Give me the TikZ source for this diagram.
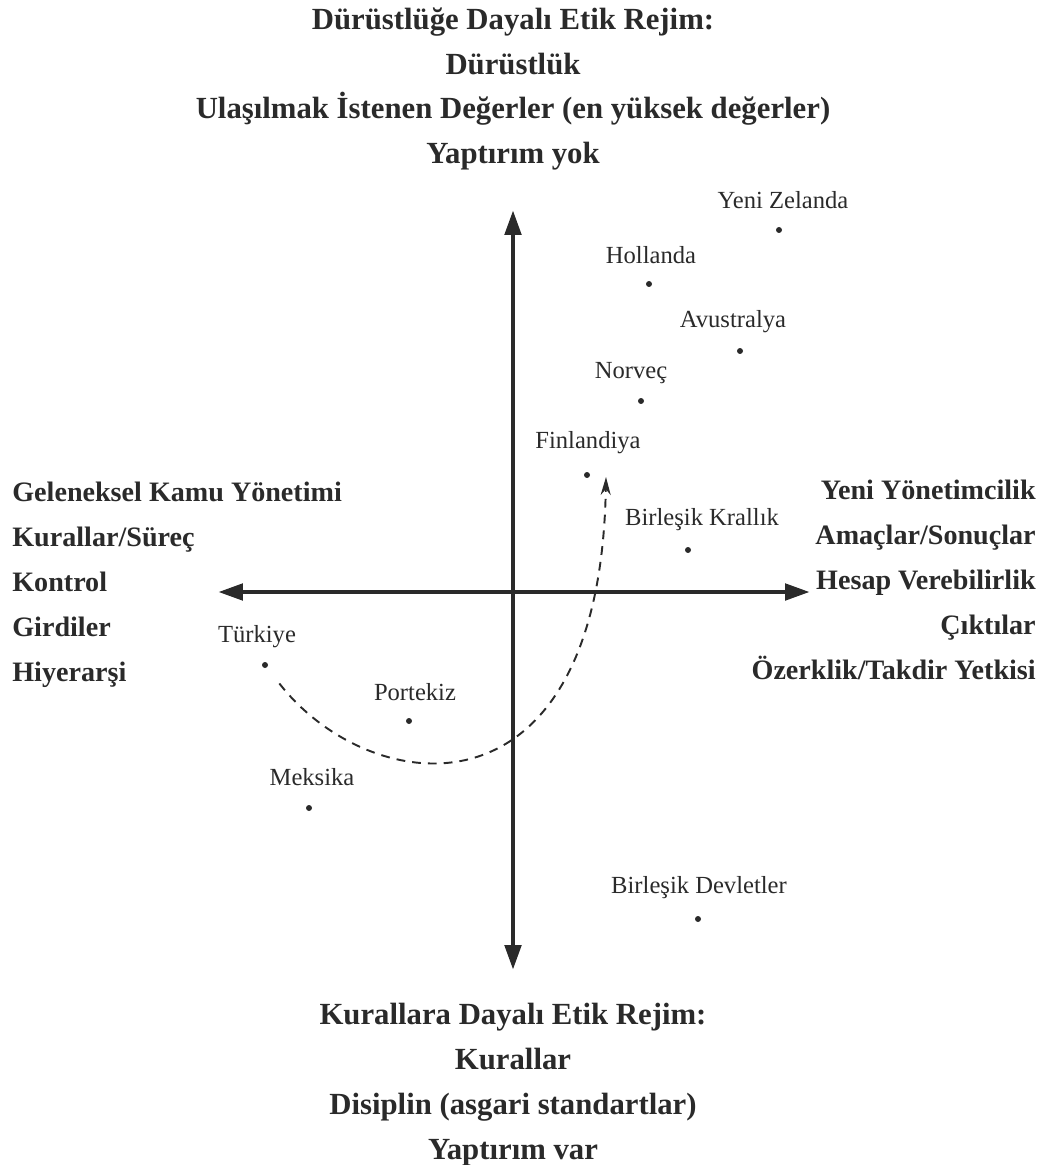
\documentclass[tikz,border=0pt]{standalone}
\usepackage{fontspec}
\setmainfont{Liberation Serif}
\usepackage{xcolor}
\usepackage{tikz}
\usetikzlibrary{arrows.meta}

\definecolor{ink}{HTML}{2A2A2A}

\begin{document}
\begin{tikzpicture}[x=0.02cm, y=-0.02cm,
	axis/.style = {ink, line width = 2.8pt, {Triangle[length=0.5cm, width=0.32cm]}-{Triangle[length=0.5cm, width=0.32cm]}},
	trend/.style = {ink, line width = 1.1pt, dash pattern = on 5pt off 4pt, -{Stealth[length=0.36cm, width=0.2cm]}},
	dot/.style = {circle, fill = ink, inner sep = 0pt, minimum size = 0.12cm},
	country/.style = {ink, font = \fontsize{14}{16}\selectfont, inner sep = 0pt},
	heading/.style = {ink, font = \fontsize{17.5}{25.6}\selectfont\bfseries, align = center, inner sep = 0pt},
	side/.style = {ink, font = \fontsize{16}{25.6}\selectfont\bfseries, inner sep = 0pt}]

	\useasboundingbox (0,0) rectangle (1046,1165);

	% axes
	\coordinate (W) at (218,592);
	\coordinate (E) at (810,592);
	\coordinate (N) at (513,210);
	\coordinate (S) at (513,970);
	\draw [axis] (W) -- (E);
	\draw [axis] (S) -- (N);

	% headings
	\node [heading] (top) at (513,89) {D\"ur\"ustl\"u\u{g}e Dayal\i{} Etik Rejim:\\ D\"ur\"ustl\"uk\\ Ula\c{s}\i lmak \.Istenen De\u{g}erler (en y\"uksek de\u{g}erler)\\ Yapt\i r\i m yok};
	\node [heading] (bottom) at (513,1085) {Kurallara Dayal\i{} Etik Rejim:\\ Kurallar\\ Disiplin (asgari standartlar)\\ Yapt\i r\i m var};
	\node [side, align = left, anchor = west] (left) at (12,585) {Geleneksel Kamu Y\"onetimi\\ Kurallar/S\"ure\c{c}\\ Kontrol\\ Girdiler\\ Hiyerar\c{s}i};
	\node [side, align = right, anchor = east] (right) at (1036,580) {Yeni Y\"onetimcilik\\ Ama\c{c}lar/Sonu\c{c}lar\\ Hesap Verebilirlik\\ \c{C}\i kt\i lar\\ \"Ozerklik/Takdir Yetkisi};

	% countries
	\node [dot] (nz) at (779,230) {};
	\node [dot] (nl) at (649,284) {};
	\node [dot] (au) at (740,351) {};
	\node [dot] (no) at (641,401) {};
	\node [dot] (fi) at (587,475) {};
	\node [dot] (uk) at (688,550) {};
	\node [dot] (tr) at (265,665) {};
	\node [dot] (pt) at (409,721) {};
	\node [dot] (mx) at (309,808) {};
	\node [dot] (us) at (698,919) {};

	\node [country] at (783,200) {Yeni Zelanda};
	\node [country] at (651,255) {Hollanda};
	\node [country] at (733,322) {Avustralya};
	\node [country] at (631,373) {Norve\c{c}};
	\node [country] at (588,443) {Finlandiya};
	\node [country] at (702,520) {Birle\c{s}ik Krall\i k};
	\node [country] at (257,637) {T\"urkiye};
	\node [country] at (415,692) {Portekiz};
	\node [country] at (312,777) {Meksika};
	\node [country] at (699,888) {Birle\c{s}ik Devletler};

	% trend
	\coordinate (tip) at (606,477);
	\draw [trend, shorten <= 0.4cm] (tr) .. controls (370,800) and (600,830) .. (tip);
\end{tikzpicture}
\end{document}
